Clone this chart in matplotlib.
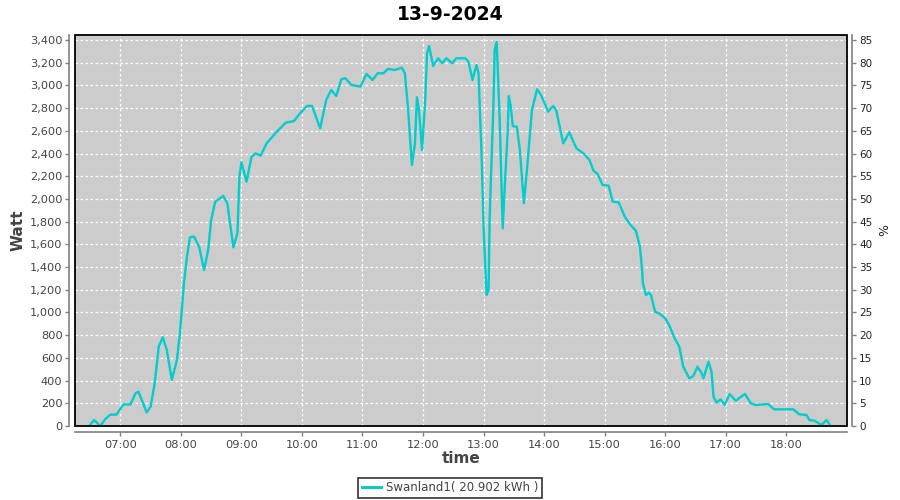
import matplotlib
matplotlib.use("Agg")
import matplotlib.pyplot as plt
import matplotlib.dates as mdates
from matplotlib.ticker import FuncFormatter, MultipleLocator
from matplotlib.patches import Rectangle
import pandas as pd

title = "13-9-2024"
series_name = "Swanland1( 20.902 kWh )"

times = ["06:29", "06:34", "06:40", "06:45", "06:50", "06:56", "07:03", "07:10", "07:15", "07:18",
         "07:26", "07:30", "07:34", "07:38", "07:42", "07:46", "07:51", "07:56", "07:59", "08:03",
         "08:06", "08:09", "08:13", "08:18", "08:23", "08:27", "08:30", "08:34", "08:42", "08:46",
         "08:52", "08:56", "08:58", "09:00", "09:05", "09:10", "09:14", "09:19", "09:25", "09:35",
         "09:44", "09:52", "09:58", "10:05", "10:10", "10:18", "10:24", "10:29", "10:34", "10:39",
         "10:43", "10:49", "10:58", "11:04", "11:10", "11:15", "11:21", "11:25", "11:32", "11:39",
         "11:42", "11:45", "11:49", "11:52", "11:54", "11:56", "11:59", "12:02", "12:04", "12:06",
         "12:10", "12:15", "12:19", "12:23", "12:29", "12:33", "12:42", "12:45", "12:49", "12:53",
         "12:55", "12:58", "13:00", "13:03", "13:05", "13:06", "13:10", "13:11", "13:13", "13:14",
         "13:16", "13:19", "13:21", "13:24", "13:25", "13:27", "13:29", "13:33", "13:36", "13:40",
         "13:43", "13:48", "13:53", "13:57", "14:04", "14:09", "14:12", "14:19", "14:25", "14:32",
         "14:39", "14:45", "14:49", "14:53", "14:58", "15:04", "15:08", "15:14", "15:20", "15:25",
         "15:31", "15:35", "15:37", "15:38", "15:41", "15:44", "15:46", "15:50", "15:55", "16:00",
         "16:04", "16:09", "16:14", "16:18", "16:24", "16:28", "16:32", "16:36", "16:38", "16:41",
         "16:43", "16:46", "16:48", "16:51", "16:55", "16:59", "17:04", "17:10", "17:19", "17:25",
         "17:30", "17:42", "17:48", "18:07", "18:13", "18:20", "18:23", "18:28", "18:35", "18:40",
         "18:44"]

watts = [0, 53, 0, 60, 100, 100, 190, 190, 288, 302,
         120, 170, 376, 699, 781, 670, 405, 581, 816, 1257,
         1491, 1662, 1668, 1580, 1374, 1550, 1815, 1976, 2026, 1962,
         1574, 1697, 2196, 2323, 2152, 2372, 2402, 2381, 2490, 2592,
         2672, 2685, 2754, 2819, 2819, 2622, 2871, 2960, 2907, 3054,
         3063, 3004, 2989, 3101, 3048, 3107, 3107, 3145, 3136, 3156,
         3107, 2813, 2299, 2490, 2895, 2783, 2431, 2842, 3283, 3347,
         3171, 3239, 3195, 3239, 3195, 3239, 3239, 3209, 3048, 3180,
         3107, 2402, 1755, 1154, 1198, 1814, 2900, 3312, 3385, 3165,
         2695, 1741, 2108, 2607, 2907, 2813, 2642, 2636, 2431, 1962,
         2255, 2783, 2966, 2916, 2769, 2819, 2783, 2490, 2587, 2446,
         2402, 2343, 2249, 2220, 2123, 2117, 1976, 1970, 1844, 1779,
         1720, 1580, 1389, 1257, 1154, 1174, 1154, 1007, 987, 948,
         890, 781, 699, 522, 420, 440, 522, 469, 420, 508,
         566, 478, 258, 205, 235, 185, 282, 223, 282, 200,
         185, 194, 147, 147, 103, 97, 53, 47, 9, 53,
         0]

x_start = "06:15"
x_end = "19:00"
y_max_watt = 3444
pct_full_scale = 4000  # 100 % corresponds to 4000 W

day = "2024-09-13 "
t = pd.to_datetime([day + s for s in times])

plt.rcParams['font.family'] = ['DejaVu Sans']
fig = plt.figure(figsize=(9, 5), dpi=100)
ax = fig.add_axes([75 / 900, 1 - 426 / 500, (846.7 - 75) / 900, (426 - 35) / 500])
ax.set_facecolor('#CCCCCC')

line_color = '#00CCCC'
ax.plot(t, watts, color=line_color, lw=1.7, solid_joinstyle='round')

ax.set_xlim(pd.Timestamp(day + x_start), pd.Timestamp(day + x_end))
ax.set_ylim(0, y_max_watt)
ax.yaxis.set_major_locator(MultipleLocator(200))
ax.yaxis.set_major_formatter(FuncFormatter(lambda v, p: f"{int(v):,}"))
ax.xaxis.set_major_locator(mdates.HourLocator(byhour=range(7, 19)))
ax.xaxis.set_major_formatter(mdates.DateFormatter("%H:%M"))

ax.grid(True, color='white', linestyle=(0, (2, 2)), linewidth=0.9)
ax.set_axisbelow(True)

axis_gray = '#808080'
for s in ['top', 'right']:
    ax.spines[s].set_visible(False)
for s in ['left', 'bottom']:
    ax.spines[s].set_position(('outward', 4))
    ax.spines[s].set_color(axis_gray)
    ax.spines[s].set_linewidth(1.2)
ax.tick_params(axis='both', colors=axis_gray, labelcolor='#444444', labelsize=8.2,
               length=3, width=1, direction='out')
ax.tick_params(axis='x', pad=3)
ax.tick_params(axis='y', pad=2)

# plot border
ax.add_patch(Rectangle((0, 0), 1, 1, transform=ax.transAxes, fill=False,
                       edgecolor='black', lw=1.3, clip_on=False, zorder=5))

ax2 = ax.twinx()
ax2.set_ylim(0, y_max_watt / pct_full_scale * 100)
ax2.yaxis.set_major_locator(MultipleLocator(5))
for s in ['top', 'left', 'bottom']:
    ax2.spines[s].set_visible(False)
ax2.spines['right'].set_position(('outward', 4))
ax2.spines['right'].set_color(axis_gray)
ax2.spines['right'].set_linewidth(1.2)
ax2.tick_params(axis='y', colors=axis_gray, labelcolor='#222222', labelsize=7.5,
                length=3, width=1, direction='out', pad=2)

ax.set_ylabel("Watt", fontsize=11, fontweight='bold', color='#444444', labelpad=3)
ax.set_xlabel("time", fontsize=11, fontweight='bold', color='#444444', labelpad=1)
ax2.set_ylabel("%", fontsize=9, color='#222222', labelpad=4)

fig.text(0.5, 0.97, title, ha='center', va='center', fontsize=13.5, fontweight='bold')

leg = fig.legend([plt.Line2D([], [], color=line_color, lw=2.2)], [series_name],
                 loc='center', bbox_to_anchor=(450 / 900, 1 - 488 / 500), frameon=True,
                 fancybox=False, fontsize=8.5, handlelength=1.6, handletextpad=0.4,
                 borderpad=0.3, borderaxespad=0)
leg.get_frame().set_edgecolor('black')
leg.get_frame().set_linewidth(1.2)
for txt in leg.get_texts():
    txt.set_color('#444444')

fig.savefig("out.png", dpi=100)
